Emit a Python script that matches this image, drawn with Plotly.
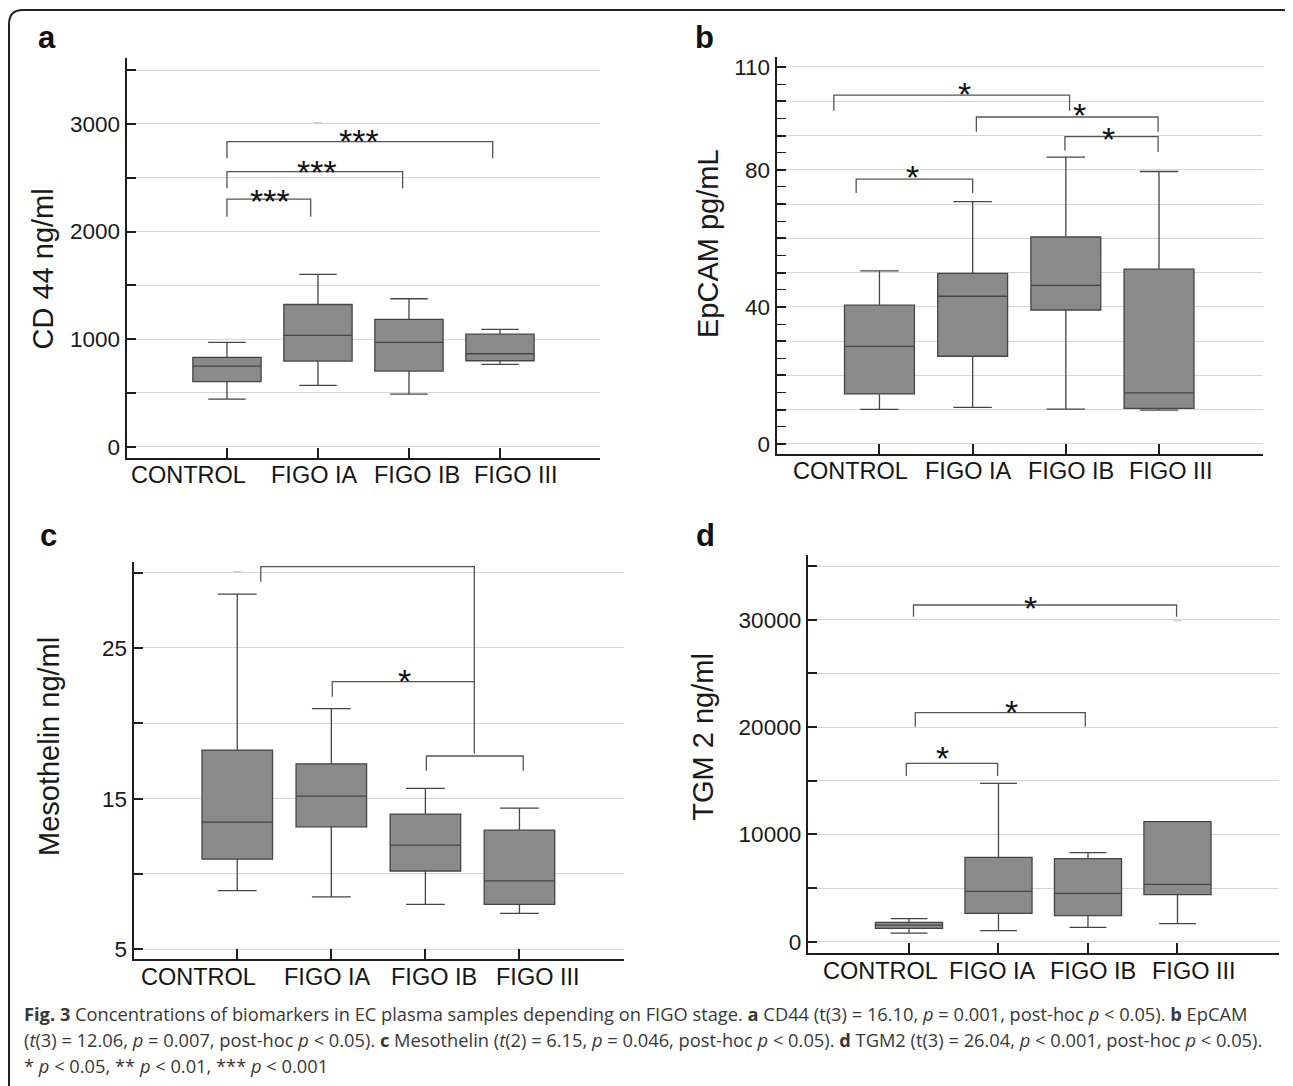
import plotly.graph_objects as go

# The page body has an 8 px margin, so the figure is shifted by that amount
OFF = 8
W, H = 1293 - OFF, 1086 - OFF

categories = ["CONTROL", "FIGO IA", "FIGO IB", "FIGO III"]
cat_pos = [0, 1, 2, 3]

# ---- Panel a: CD44 (ng/ml)
cd44_lower = [443, 570, 489, 765]
cd44_q1 = [604, 796, 703, 799]
cd44_median = [749, 1034, 969, 864]
cd44_q3 = [830, 1322, 1183, 1046]
cd44_upper = [969, 1601, 1375, 1090]
cd44_out_x = [1]
cd44_out_y = [3012]
cd44_tickvals = [0, 500, 1000, 1500, 2000, 2500, 3000, 3500]
cd44_ticktext = ["0", "", "1000", "", "2000", "", "3000", ""]
cd44_brackets = [(0.0, 0.92, 2302, 2138, 2138), (0.0, 1.93, 2557, 2402, 2402), (0.0, 2.92, 2835, 2681, 2681)]
cd44_stars = [(0.47, 2371, "***"), (0.99, 2635, "***"), (1.45, 2929, "***")]

# ---- Panel b: EpCAM (pg/mL)
epcam_lower = [10.1, 10.7, 10.2, 9.9]
epcam_q1 = [14.6, 25.6, 39.1, 10.4]
epcam_median = [28.5, 43.1, 46.3, 14.9]
epcam_q3 = [40.5, 49.8, 60.4, 51.0]
epcam_upper = [50.5, 70.7, 83.7, 79.5]
epcam_tickvals = [0, 10, 20, 30, 40, 50, 60, 70, 80, 90, 100, 110]
epcam_ticktext = ["0", "", "", "", "40", "", "", "", "80", "", "", "110"]
epcam_minor = [5, 15, 25, 35, 45, 55, 65, 75, 85, 95, 105]
epcam_brackets = [(-0.49, 2.04, 101.8, 97.2, 97.2), (1.04, 2.99, 95.4, 91.1, 91.1),
                  (1.99, 2.99, 89.7, 85.6, 85.3), (-0.25, 1.0, 77.3, 73.2, 73.2)]
epcam_stars = [(0.91, 104.8, "*"), (2.15, 98.6, "*"), (2.46, 91.6, "*"), (0.35, 80.4, "*")]

# ---- Panel c: Mesothelin (ng/ml)
meso_lower = [8.90, 8.48, 7.99, 7.39]
meso_q1 = [10.98, 13.13, 10.20, 7.99]
meso_median = [13.44, 15.17, 11.91, 9.54]
meso_q3 = [18.22, 17.31, 13.97, 12.91]
meso_upper = [28.57, 20.97, 15.68, 14.37]
meso_out_x = [0]
meso_out_y = [30.06]
meso_tickvals = [5, 10, 15, 20, 25, 30]
meso_ticktext = ["5", "", "15", "", "25", ""]
meso_brackets = [(0.25, 2.52, 30.39, 29.39, 18.0), (1.01, 2.52, 22.76, 21.76, 22.76),
                 (2.01, 3.04, 17.83, 16.85, 16.85)]
meso_stars = [(1.36, 31.28, "*"), (1.78, 23.42, "*")]

# ---- Panel d: TGM2 (ng/ml)
tgm2_lower = [807, 1025, 1335, 1677]
tgm2_q1 = [1242, 2640, 2422, 4379]
tgm2_median = [1553, 4689, 4503, 5342]
tgm2_q3 = [1801, 7857, 7733, 11180]
tgm2_upper = [2143, 14752, 8292, 11180]
tgm2_out_x = [3]
tgm2_out_y = [29907]
tgm2_tickvals = [0, 5000, 10000, 15000, 20000, 25000, 30000, 35000]
tgm2_ticktext = ["0", "", "10000", "", "20000", "", "30000", ""]
tgm2_brackets = [(0.05, 2.99, 31371, 30281, 30281), (0.07, 1.97, 21336, 20031, 20031),
                 (-0.03, 0.99, 16621, 15438, 15438)]
tgm2_stars = [(1.36, 31930, "*"), (1.14, 22212, "*"), (0.37, 17926, "*")]

caption_lines = [
    "<b>Fig. 3</b> Concentrations of biomarkers in EC plasma samples depending on FIGO stage. "
    "<b>a</b> CD44 (t(3) = 16.10, <i>p</i> = 0.001, post-hoc <i>p</i> &lt; 0.05). <b>b</b> EpCAM",
    "(<i>t</i>(3) = 12.06, <i>p</i> = 0.007, post-hoc <i>p</i> &lt; 0.05). <b>c</b> Mesothelin "
    "(<i>t</i>(2) = 6.15, <i>p</i> = 0.046, post-hoc <i>p</i> &lt; 0.05). <b>d</b> TGM2 "
    "(t(3) = 26.04, <i>p</i> &lt; 0.001, post-hoc <i>p</i> &lt; 0.05).",
    "* <i>p</i> &lt; 0.05, ** <i>p</i> &lt; 0.01, *** <i>p</i> &lt; 0.001",
]


def px(x):
    return (x - OFF) / W


def py(y):
    return 1 - (y - OFF) / H


FONT = "Liberation Sans, Arial, sans-serif"
AX = "#1e1e1e"

panels = [
    dict(letter="a", title="CD 44 ng/ml",
         stats=(cd44_lower, cd44_q1, cd44_median, cd44_q3, cd44_upper),
         out=(cd44_out_x, cd44_out_y), tv=cd44_tickvals, tt=cd44_ticktext, minor=None,
         br=cd44_brackets, st=cd44_stars,
         xdom=(126.5, 600), ydom=(458, 58), xr=(-1.104, 4.099), yr=(-105, 3613),
         lab_x=[-0.42, 0.96, 2.09, 3.18], lab_y=475,
         letter_xy=(36, 57), title_xy=(42.5, 269)),
    dict(letter="b", title="EpCAM pg/mL",
         stats=(epcam_lower, epcam_q1, epcam_median, epcam_q3, epcam_upper),
         out=None, tv=epcam_tickvals, tt=epcam_ticktext, minor=epcam_minor,
         br=epcam_brackets, st=epcam_stars,
         xdom=(776.5, 1263), ydom=(454, 56.7), xr=(-1.105, 4.116), yr=(-2.92, 113.0),
         lab_x=[-0.31, 0.96, 2.06, 3.13], lab_y=471.5,
         letter_xy=(693, 57), title_xy=(708, 243)),
    dict(letter="c", title="Mesothelin ng/ml",
         stats=(meso_lower, meso_q1, meso_median, meso_q3, meso_upper),
         out=(meso_out_x, meso_out_y), tv=meso_tickvals, tt=meso_ticktext, minor=None,
         br=meso_brackets, st=meso_stars,
         xdom=(133.6, 623.6), ydom=(959, 561.7), xr=(-1.102, 4.107), yr=(4.36, 30.72),
         lab_x=[-0.41, 0.96, 2.09, 3.20], lab_y=977,
         letter_xy=(38, 555), title_xy=(48.5, 746.5)),
    dict(letter="d", title="TGM 2 ng/ml",
         stats=(tgm2_lower, tgm2_q1, tgm2_median, tgm2_q3, tgm2_upper),
         out=(tgm2_out_x, tgm2_out_y), tv=tgm2_tickvals, tt=tgm2_ticktext, minor=None,
         br=tgm2_brackets, st=tgm2_stars,
         xdom=(807.7, 1278.6), ydom=(952.7, 555), xr=(-1.132, 4.13), yr=(-1025, 36030),
         lab_x=[-0.32, 0.93, 2.06, 3.18], lab_y=971,
         letter_xy=(694, 555), title_xy=(703, 736.7)),
]

fig = go.Figure()
annotations = []
shapes = []
layout_axes = {}

for i, p in enumerate(panels, start=1):
    sx = "" if i == 1 else str(i)
    xref, yref = "x" + sx, "y" + sx
    lower, q1, med, q3, upper = p["stats"]
    fig.add_trace(go.Box(
        x=cat_pos, q1=q1, median=med, q3=q3, lowerfence=lower, upperfence=upper,
        width=0.75, whiskerwidth=0.55, boxpoints=False,
        fillcolor="#8a8a8a", line=dict(color="#454545", width=1.3),
        xaxis=xref, yaxis=yref, showlegend=False, hoverinfo="skip"))
    if p["out"] is not None:
        fig.add_trace(go.Scatter(
            x=p["out"][0], y=p["out"][1], mode="markers",
            marker=dict(symbol="line-ew", size=6, line=dict(color="#c4c4c4", width=1)),
            xaxis=xref, yaxis=yref, showlegend=False, hoverinfo="skip"))

    layout_axes["xaxis" + sx] = dict(
        domain=[px(p["xdom"][0]), px(p["xdom"][1])], range=list(p["xr"]),
        anchor=yref, tickvals=cat_pos, showticklabels=False,
        ticks="inside", ticklen=10, tickwidth=1.5, tickcolor=AX,
        showline=True, linecolor=AX, linewidth=2, showgrid=False, zeroline=False,
        fixedrange=True)
    yax = dict(
        domain=[py(p["ydom"][0]), py(p["ydom"][1])], range=list(p["yr"]),
        anchor=xref, tickvals=p["tv"], ticktext=p["tt"],
        ticks="inside", ticklen=9, tickwidth=1.5, tickcolor=AX,
        tickfont=dict(family=FONT, size=22.5, color="#1a1a1a"),
        showline=True, linecolor=AX, linewidth=2,
        showgrid=True, gridcolor="#d6d6d6", gridwidth=1, zeroline=False,
        fixedrange=True)
    if p["minor"] is not None:
        yax["minor"] = dict(tickvals=p["minor"], ticks="inside", ticklen=9,
                            tickwidth=1.2, tickcolor=AX, showgrid=False)
    layout_axes["yaxis" + sx] = yax

    # category labels
    for lx, name in zip(p["lab_x"], categories):
        annotations.append(dict(
            x=lx, y=py(p["lab_y"]), xref=xref, yref="paper", text=name,
            showarrow=False, xanchor="center", yanchor="middle",
            font=dict(family=FONT, size=23.5, color="#151515")))

    # significance brackets
    for xl, xr_, yt, yl, yr_ in p["br"]:
        shapes.append(dict(
            type="path", xref=xref, yref=yref,
            path=f"M {xl},{yl} L {xl},{yt} L {xr_},{yt} L {xr_},{yr_}",
            line=dict(color="#555555", width=1.3)))
    for sxv, syv, txt in p["st"]:
        annotations.append(dict(
            x=sxv, y=syv, xref=xref, yref=yref, text=txt, showarrow=False,
            xanchor="center", yanchor="middle", yshift=-9,
            font=dict(family=FONT, size=34, color="#111111")))

    # panel letter
    annotations.append(dict(
        x=px(p["letter_xy"][0]), y=py(p["letter_xy"][1]), xref="paper", yref="paper",
        text="<b>" + p["letter"] + "</b>", showarrow=False,
        xanchor="left", yanchor="bottom",
        font=dict(family=FONT, size=31, color="#111111")))
    # axis title
    annotations.append(dict(
        x=px(p["title_xy"][0]), y=py(p["title_xy"][1]), xref="paper", yref="paper",
        text=p["title"], showarrow=False, textangle=-90,
        xanchor="center", yanchor="middle",
        font=dict(family=FONT, size=29, color="#1a1a1a")))

# caption
for k, line in enumerate(caption_lines):
    annotations.append(dict(
        x=px(22), y=py(1013 + 26 * k), xref="paper", yref="paper",
        text=line, showarrow=False, xanchor="left", yanchor="middle",
        font=dict(family="Open Sans, Noto Sans, sans-serif", size=18.3, color="#383838")))

# rounded outer frame
r = 14
frame = (f"M {px(9)},{py(1095)} L {px(9)},{py(10 + r)} "
         f"Q {px(9)},{py(10)} {px(9 + r)},{py(10)} "
         f"L {px(1283)},{py(10)} Q {px(1291)},{py(10)} {px(1292)},{py(18)} "
         f"L {px(1292)},{py(1095)}")
shapes.append(dict(type="path", xref="paper", yref="paper", path=frame,
                   line=dict(color="#222222", width=2)))

fig.update_layout(
    width=W, height=H,
    margin=dict(l=0, r=0, t=0, b=0, autoexpand=False),
    paper_bgcolor="white", plot_bgcolor="white",
    font=dict(family=FONT),
    annotations=annotations, shapes=shapes,
    showlegend=False,
    **layout_axes,
)

fig.write_html("out.html")
